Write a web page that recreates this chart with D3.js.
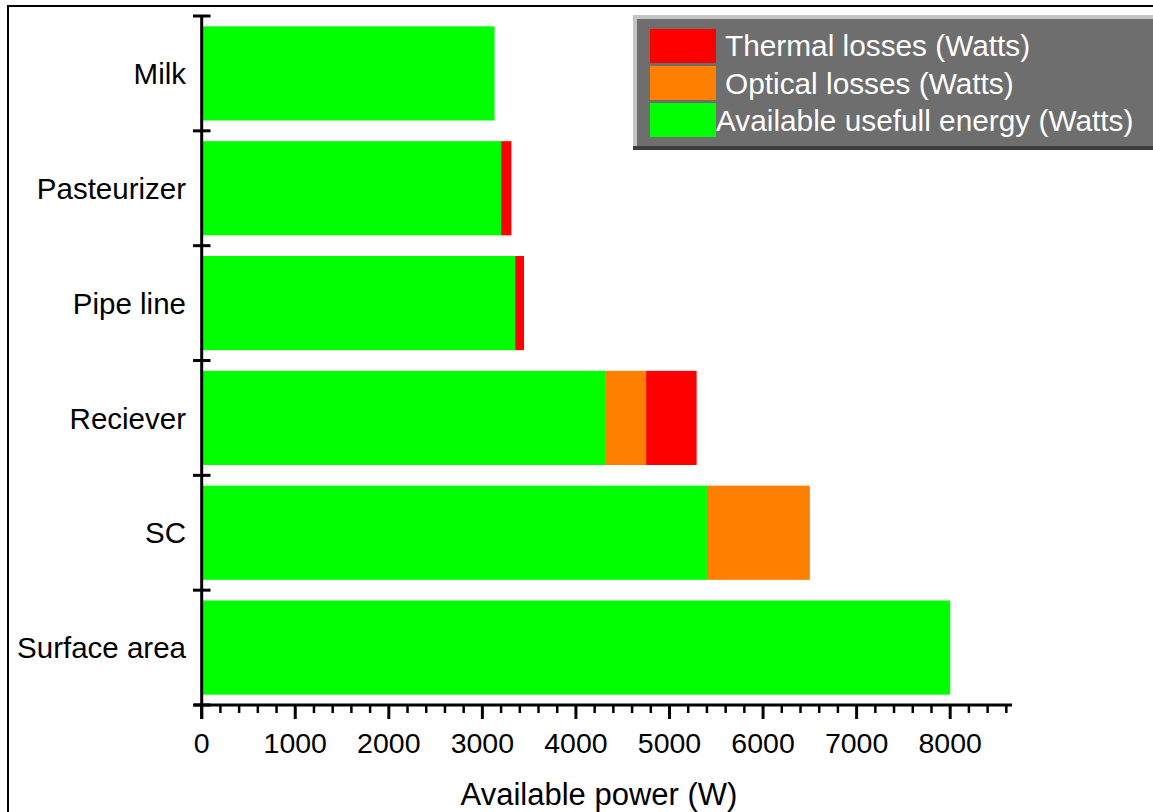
<!DOCTYPE html>
<html><head><meta charset="utf-8">
<script src="https://cdn.jsdelivr.net/npm/d3@7"></script>
<style>html,body{margin:0;padding:0;background:#fff;overflow:hidden}</style>
</head><body>
<svg id="c" width="1153" height="812"></svg>
<script>
const categories = ["Milk","Pasteurizer","Pipe line","Reciever","SC","Surface area"];
const usefulEnergy = [3130, 3200, 3350, 4320, 5400, 8000];
const opticalLosses = [0, 0, 0, 430, 1100, 0];
const thermalLosses = [0, 110, 95, 540, 0, 0];
const seriesNames = ["Available usefull energy (Watts)","Optical losses (Watts)","Thermal losses (Watts)"];
const seriesColors = ["#00ff00","#ff8000","#ff0000"];
const xTickValues = [0,1000,2000,3000,4000,5000,6000,7000,8000];
const xMax = 8650;
const xTitle = "Available power (W)";

const svg = d3.select("#c");
const font = "'Liberation Sans', Arial, sans-serif";

// frame
svg.append("rect").attr("x",8).attr("y",6).attr("width",1200).attr("height",900)
  .attr("fill","#fff").attr("stroke","#000").attr("stroke-width",2);

const x = d3.scaleLinear().domain([0,xMax]).range([201.7, 1011]);
const y = d3.scaleBand().domain(categories).range([16,705]).paddingInner(0.18).paddingOuter(0.09);

const table = categories.map((c,i)=>({cat:c, s0:usefulEnergy[i], s1:opticalLosses[i], s2:thermalLosses[i]}));
const stack = d3.stack().keys(["s0","s1","s2"])(table);

const g = svg.append("g");
stack.forEach((layer,k)=>{
  g.selectAll(null).data(layer.filter(d=>d[1]-d[0]>0)).join("rect")
   .attr("x",d=>x(d[0])).attr("width",d=>x(d[1])-x(d[0]))
   .attr("y",d=>y(d.data.cat)).attr("height",y.bandwidth())
   .attr("fill",seriesColors[k]);
});

// x axis
const axisY = 705;
svg.append("line").attr("x1",194).attr("x2",1012).attr("y1",axisY).attr("y2",axisY)
  .attr("stroke","#000").attr("stroke-width",3);
const minor = d3.range(0, xMax, 200);
svg.selectAll(null).data(minor).join("line")
  .attr("x1",d=>x(d)).attr("x2",d=>x(d)).attr("y1",axisY)
  .attr("y2",d=>d%1000===0?719:713)
  .attr("stroke","#000").attr("stroke-width",d=>d%1000===0?3:2.5);
svg.selectAll(null).data(xTickValues).join("text")
  .attr("x",d=>x(d)).attr("y",753).attr("text-anchor","middle")
  .attr("font-family",font).attr("font-size",28.5).attr("fill","#000").text(d=>d);
svg.append("text").attr("x",599).attr("y",805).attr("text-anchor","middle")
  .attr("font-family",font).attr("font-size",31).attr("fill","#000").text(xTitle);

// y axis
svg.append("line").attr("x1",201.7).attr("x2",201.7).attr("y1",15).attr("y2",axisY+14)
  .attr("stroke","#000").attr("stroke-width",3);
const gap = (y.step()-y.bandwidth())/2;
const bounds = categories.map(c=>y(c)-gap).concat([y(categories[categories.length-1])+y.bandwidth()+gap]);
svg.selectAll(null).data(bounds).join("line")
  .attr("x1",193).attr("x2",210.5).attr("y1",d=>d).attr("y2",d=>d)
  .attr("stroke","#000").attr("stroke-width",3);
svg.selectAll(null).data(categories).join("text")
  .attr("x",186).attr("y",d=>y(d)+y.bandwidth()/2).attr("dy","0.36em")
  .attr("text-anchor","end").attr("font-family",font).attr("font-size",29.5).attr("fill","#000").text(d=>d);

// legend
const lg = svg.append("g");
lg.append("rect").attr("x",633).attr("y",15).attr("width",540).attr("height",135).attr("fill","#3c3c3c");
lg.append("rect").attr("x",633).attr("y",15).attr("width",540).attr("height",131).attr("fill","#c4c4c4");
lg.append("rect").attr("x",637).attr("y",19).attr("width",540).attr("height",127).attr("fill","#6e6e6e");
const legendOrder = [2,1,0];
const legendTextX = [725,725,716];
legendOrder.forEach((k,i)=>{
  lg.append("rect").attr("x",650).attr("y",29+i*37).attr("width",66).attr("height",34).attr("fill",seriesColors[k]);
  lg.append("text").attr("x",legendTextX[i]).attr("y",56+i*37.5).attr("font-family",font)
    .attr("font-size",29.8).attr("fill","#fff").text(seriesNames[k]);
});
</script>
</body></html>
